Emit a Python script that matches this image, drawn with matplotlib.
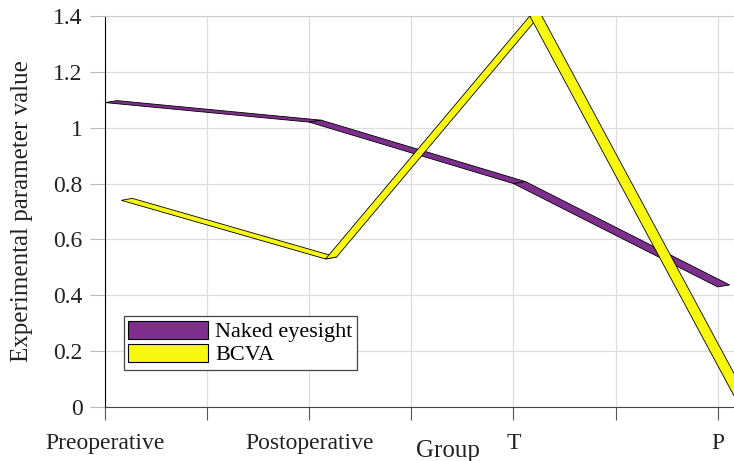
import matplotlib.pyplot as plt
from matplotlib.patches import Polygon, Patch

plt.rcParams['font.family'] = ['Liberation Serif', 'DejaVu Serif']

groups = ["Preoperative", "Postoperative", "T", "P"]
positions = [1, 2, 3, 4]
naked = [1.09, 1.02, 0.80, 0.43]
bcva = [0.74, 0.53, 1.40, 0.04]


def ribbon(ax, xs, ys, color, dx, dy):
    # each segment is a flat band: the data edge plus a shifted back edge
    for i in range(len(xs) - 1):
        x0, x1 = xs[i], xs[i + 1]
        y0, y1 = ys[i], ys[i + 1]
        quad = [(x0, y0), (x1, y1), (x1 + dx, y1 + dy), (x0 + dx, y0 + dy)]
        ax.add_patch(Polygon(quad, closed=True, facecolor=color,
                             edgecolor="black", linewidth=0.6, zorder=3))


fig = plt.figure(figsize=(7.34, 4.61), dpi=100)
ax = fig.add_axes([105 / 734, 54 / 461, 629 / 734, 391 / 461])

purple = "#7E2F8E"
yellow = "#F7F70F"
ribbon(ax, positions, naked, purple, 0.059, 0.007)
ribbon(ax, [p + 0.08 for p in positions], bcva, yellow, 0.054, 0.007)

ax.set_xlim(1, 4.08)
ax.set_ylim(0, 1.4)
ax.set_xticks([1, 1.5, 2, 2.5, 3, 3.5, 4])
ax.set_xticklabels([groups[0], "", groups[1], "", groups[2], "", groups[3]])
ax.set_yticks([0, 0.2, 0.4, 0.6, 0.8, 1.0, 1.2, 1.4])
ax.set_yticklabels(["0", "0.2", "0.4", "0.6", "0.8", "1", "1.2", "1.4"])
ax.tick_params(axis="x", direction="out", length=9, color="#555555",
               labelsize=17, pad=10, labelcolor="#222222")
ax.tick_params(axis="y", direction="out", length=11, color="#bbbbbb",
               labelsize=17, pad=5, labelcolor="#222222")
ax.grid(True, color="#dddddd", linewidth=0.9)
ax.set_axisbelow(True)

ax.spines["left"].set_color("black")
ax.spines["bottom"].set_color("#444444")
ax.spines["top"].set_color("#cccccc")
ax.spines["right"].set_visible(False)

ax.set_xlabel("Group", fontsize=18, color="#222222", va="center")
ax.xaxis.set_label_coords(0.545, -0.112)
ax.set_ylabel("Experimental parameter value", fontsize=18, color="#222222",
              va="center")
ax.yaxis.set_label_coords(-0.132, 0.50)

handles = [Patch(facecolor=purple, edgecolor="black", linewidth=0.8),
           Patch(facecolor=yellow, edgecolor="black", linewidth=0.8)]
leg = ax.legend(handles, ["Naked eyesight", "BCVA"], loc="lower left",
                bbox_to_anchor=(0.03, 0.095), borderaxespad=0, fontsize=16,
                handlelength=3.6, handleheight=0.9, handletextpad=0.3,
                borderpad=0.2, labelspacing=0.05, fancybox=False,
                framealpha=1)
leg.get_frame().set_edgecolor("#444444")
leg.get_frame().set_linewidth(0.9)

fig.savefig("out.png", dpi=100)
